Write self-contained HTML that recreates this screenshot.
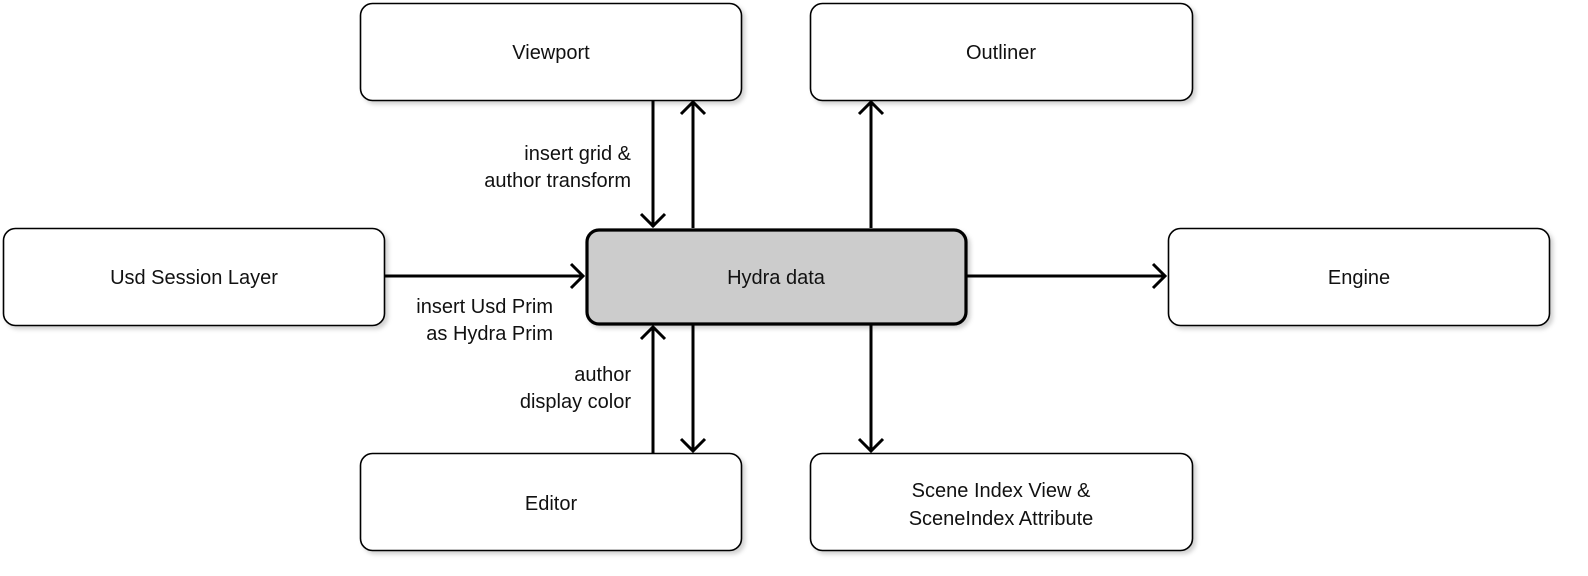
<!DOCTYPE html>
<html><head><meta charset="utf-8"><style>
html,body{margin:0;padding:0;background:#fff;}
svg{display:block;}
text{font-family:"Liberation Sans",sans-serif;font-size:20px;fill:#111;}
</style></head><body>
<svg width="1588" height="576" viewBox="0 0 1588 576" xmlns="http://www.w3.org/2000/svg">
<defs>
<filter id="sh" x="-10%" y="-10%" width="130%" height="140%">
<feDropShadow dx="3" dy="3" stdDeviation="2" flood-color="#000" flood-opacity="0.18"/>
</filter>
</defs>
<g fill="#fff" stroke="#000" stroke-width="1.6" filter="url(#sh)">
<rect x="360.5" y="3.5" width="381" height="97" rx="12"/>
<rect x="810.5" y="3.5" width="382" height="97" rx="12"/>
<rect x="3.5" y="228.5" width="381" height="97" rx="12"/>
<rect x="1168.5" y="228.5" width="381" height="97" rx="12"/>
<rect x="360.5" y="453.5" width="381" height="97" rx="12"/>
<rect x="810.5" y="453.5" width="382" height="97" rx="12"/>
</g>
<rect x="587" y="230" width="379" height="94" rx="12" fill="#cccccc" stroke="#000" stroke-width="3.2" filter="url(#sh)"/>
<g stroke="#000" stroke-width="3" fill="none">
<line x1="653" y1="100" x2="653" y2="227"/><polyline points="641,214 653,226 665,214"/>
<line x1="693" y1="228" x2="693" y2="102"/><polyline points="681,114 693,102 705,114"/>
<line x1="871" y1="228" x2="871" y2="102"/><polyline points="859,114 871,102 883,114"/>
<line x1="385" y1="276" x2="583" y2="276"/><polyline points="571,264 583,276 571,288"/>
<line x1="966" y1="276" x2="1165" y2="276"/><polyline points="1153,264 1165,276 1153,288"/>
<line x1="653" y1="453" x2="653" y2="327"/><polyline points="641,339 653,327 665,339"/>
<line x1="693" y1="325" x2="693" y2="451"/><polyline points="681,439 693,451 705,439"/>
<line x1="871" y1="325" x2="871" y2="451"/><polyline points="859,439 871,451 883,439"/>
</g>
<g text-anchor="middle">
<text x="551" y="59">Viewport</text>
<text x="1001" y="59">Outliner</text>
<text x="194" y="284">Usd Session Layer</text>
<text x="776" y="284">Hydra data</text>
<text x="1359" y="284">Engine</text>
<text x="551" y="510">Editor</text>
<text x="1001" y="497">Scene Index View &amp;</text>
<text x="1001" y="525">SceneIndex Attribute</text>
</g>
<g text-anchor="end">
<text x="631" y="160">insert grid &amp;</text>
<text x="631" y="187">author transform</text>
<text x="553" y="313">insert Usd Prim</text>
<text x="553" y="340">as Hydra Prim</text>
<text x="631" y="381">author</text>
<text x="631" y="408">display color</text>
</g>
</svg>
</body></html>
